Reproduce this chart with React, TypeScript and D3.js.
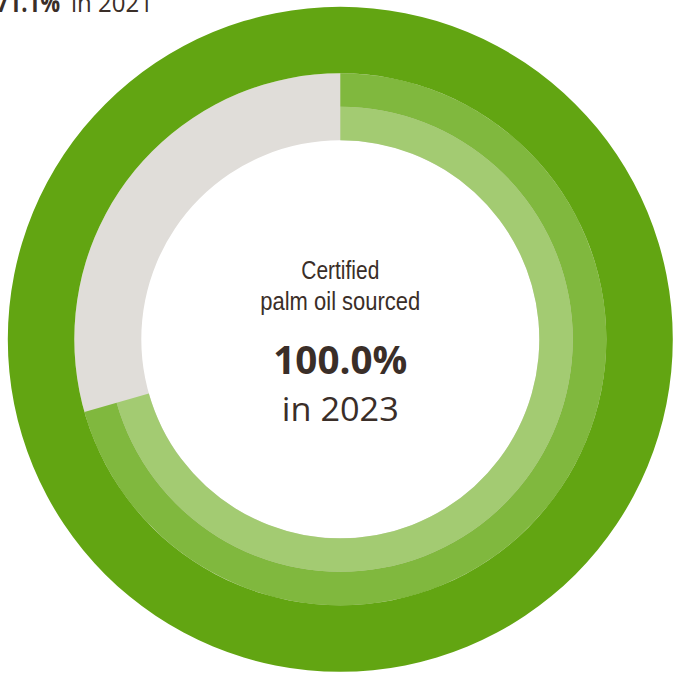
import React from "react";
import * as d3 from "d3";

const years = ["2021", "2022", "2023"];
const values = [70.6, 70.6, 100.0];
const ringColors = ["#a3cb72", "#80b83e", "#62a512"];
const trackColor = "#e0ddd9";
const textColor = "#3a2e28";
const centerLines = ["Certified", "palm oil sourced"];
const centerValue = "100.0%";
const centerYear = "in 2023";
const cornerValue = "71.1%";
const cornerYear = "in 2021";

const W = 677;
const H = 678;
const cx = 340.3;
const cy = 339.3;
const radii: [number, number][] = [
  [199, 232.5],
  [232.5, 266],
  [266, 332.5],
];

export default function App() {
  const angle = d3.scaleLinear().domain([0, 100]).range([0, 2 * Math.PI]);
  const arc = d3.arc<any>();
  const track = arc({
    innerRadius: radii[0][0],
    outerRadius: radii[1][1],
    startAngle: 0,
    endAngle: 2 * Math.PI,
  }) as string;
  const narrow = "'Liberation Sans Narrow', 'Arial Narrow', sans-serif";
  return (
    <svg
      width={W}
      height={H}
      style={{ position: "absolute", left: 0, top: 0, background: "#fff" }}
    >
      <g transform={`translate(${cx},${cy})`}>
        <path d={track} fill={trackColor} />
        {years.map((y, i) => (
          <path
            key={y}
            d={
              arc({
                innerRadius: radii[i][0],
                outerRadius: radii[i][1],
                startAngle: 0,
                endAngle: angle(values[i]),
              }) as string
            }
            fill={ringColors[i]}
          />
        ))}
        <text
          x={0}
          y={279 - cy}
          textAnchor="middle"
          fill={textColor}
          fontFamily={narrow}
          fontSize={25}
          textLength={78}
          lengthAdjust="spacingAndGlyphs"
        >
          {centerLines[0]}
        </text>
        <text
          x={0}
          y={310 - cy}
          textAnchor="middle"
          fill={textColor}
          fontFamily={narrow}
          fontSize={25}
          textLength={160}
          lengthAdjust="spacingAndGlyphs"
        >
          {centerLines[1]}
        </text>
        <text
          x={0}
          y={374 - cy}
          textAnchor="middle"
          fill={textColor}
          fontFamily="'Open Sans', sans-serif"
          fontWeight={700}
          fontSize={39}
          textLength={134}
          lengthAdjust="spacingAndGlyphs"
        >
          {centerValue}
        </text>
        <text
          x={0}
          y={421 - cy}
          textAnchor="middle"
          fill={textColor}
          fontFamily="'Open Sans', sans-serif"
          fontSize={33}
          textLength={117}
          lengthAdjust="spacingAndGlyphs"
        >
          {centerYear}
        </text>
      </g>
      <text
        x={-4}
        y={12}
        fill={textColor}
        fontFamily="'Open Sans', sans-serif"
        fontWeight={700}
        fontSize={26}
        textLength={64}
        lengthAdjust="spacingAndGlyphs"
      >
        {cornerValue}
      </text>
      <text
        x={71}
        y={12}
        fill={textColor}
        fontFamily="'Open Sans', sans-serif"
        fontSize={25}
        textLength={82}
        lengthAdjust="spacingAndGlyphs"
      >
        {cornerYear}
      </text>
    </svg>
  );
}
